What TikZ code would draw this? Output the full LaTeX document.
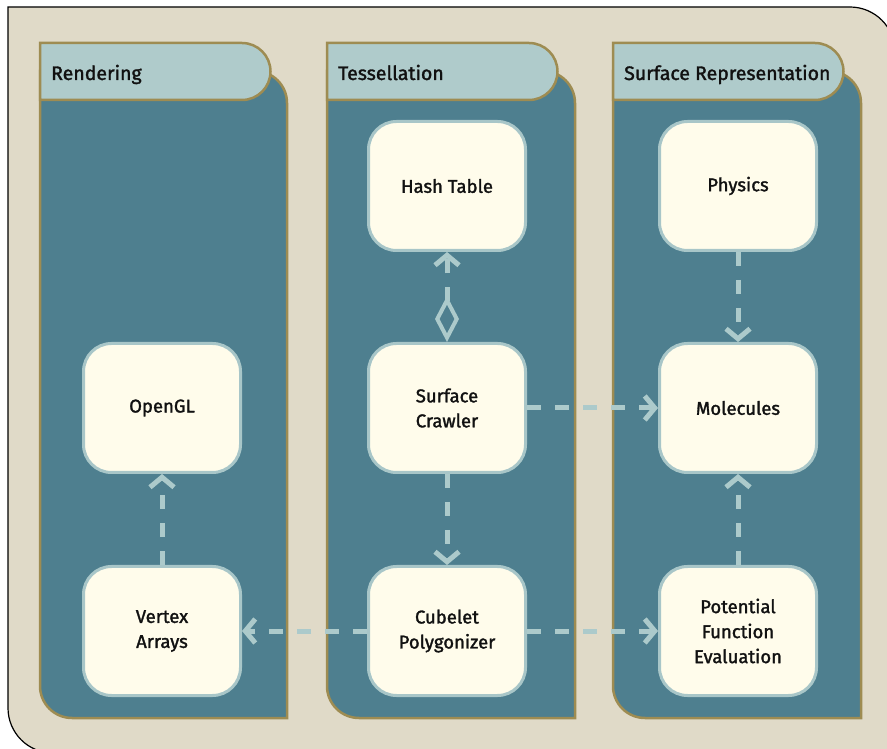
\documentclass[tikz,border=0pt]{standalone}
\usepackage{fontspec}
\setmainfont{Fira Sans}[UprightFeatures={FakeBold=1.6}]
\usetikzlibrary{arrows.meta}

\definecolor{paper}{RGB}{224,218,200}
\definecolor{lanefill}{RGB}{78,127,143}
\definecolor{gold}{RGB}{158,140,82}
\definecolor{headfill}{RGB}{175,203,203}
\definecolor{boxfill}{RGB}{255,252,235}
\definecolor{boxline}{RGB}{168,198,200}
\definecolor{wire}{RGB}{172,202,203}
\definecolor{ink}{RGB}{17,17,17}

\tikzset{
  lanebody/.style={fill=lanefill, draw=gold, line width=2.5pt},
  lanehead/.style={fill=headfill, draw=gold, line width=2.5pt},
  headtext/.style={anchor=base west, inner sep=0pt, text=ink,
    font=\fontsize{19.5}{24}\selectfont},
  block/.style={draw=boxline, fill=boxfill, line width=3pt,
    rounded corners=28pt, minimum width=157pt, minimum height=129pt,
    align=center, text=ink, font=\fontsize{18.5}{25}\selectfont},
  barb/.tip={Straight Barb[length=10pt,width=24pt,line width=5pt]},
  dep/.style={draw=wire, line width=5pt, dash pattern=on 14pt off 14pt, -barb},
  owner/.style={{Diamond[open,length=46pt,width=24pt,line width=4pt]}-barb}
}

% a swimlane: body with rounded top-right and bottom-left corners, plus its title tab
\newcommand{\swimlane}[3]{%
  \path[lanebody] (#1,677) -- (#2-32,677) arc[start angle=90,end angle=0,radius=32]
    -- (#2,30) -- (#1+32,30) arc[start angle=270,end angle=180,radius=32] -- cycle;
  \path[lanehead] (#1,705) -- (#1+202,705) arc[start angle=90,end angle=-90,radius=28.5]
    -- (#1,648) -- cycle;
  \node[headtext] at (#1+11,668) {#3};
}

\begin{document}
\begin{tikzpicture}[x=1pt,y=1pt]
  \useasboundingbox (0,0) rectangle (887,748);
  \clip (0,0) rectangle (887,748);
  \fill[white] (0,0) rectangle (887,748);

  % outer frame
  \path[fill=paper, draw=black, line width=1.2pt]
    (8,741) -- (850,741) arc[start angle=90,end angle=0,radius=45]
    -- (895,-5) -- (53,-5) arc[start angle=270,end angle=180,radius=45] -- cycle;

  \swimlane{40}{287}{Rendering}
  \swimlane{327}{575}{Tessellation}
  \swimlane{613}{861}{Surface Representation}

  % Rendering
  \node[block] (opengl) at (162,340) {OpenGL};
  \node[block] (vertex) at (162,117) {Vertex\\Arrays};
  % Tessellation
  \node[block] (hash)    at (447,562) {Hash Table};
  \node[block] (crawler) at (447,340) {Surface\\Crawler};
  \node[block] (cubelet) at (447,117) {Cubelet\\Polygonizer};
  % Surface Representation
  \node[block] (physics)   at (738,562) {Physics};
  \node[block] (molecules) at (738,340) {Molecules};
  \node[block] (potential) at (738,117) {Potential\\Function\\Evaluation};

  % dependencies
  \draw[dep, owner] (crawler) -- (hash);
  \draw[dep] (physics) -- (molecules);
  \draw[dep] (crawler) -- (molecules);
  \draw[dep] (crawler) -- (cubelet);
  \draw[dep] (cubelet) -- (vertex);
  \draw[dep] (cubelet) -- (potential);
  \draw[dep] (potential) -- (molecules);
  \draw[dep] (vertex) -- (opengl);
\end{tikzpicture}
\end{document}
